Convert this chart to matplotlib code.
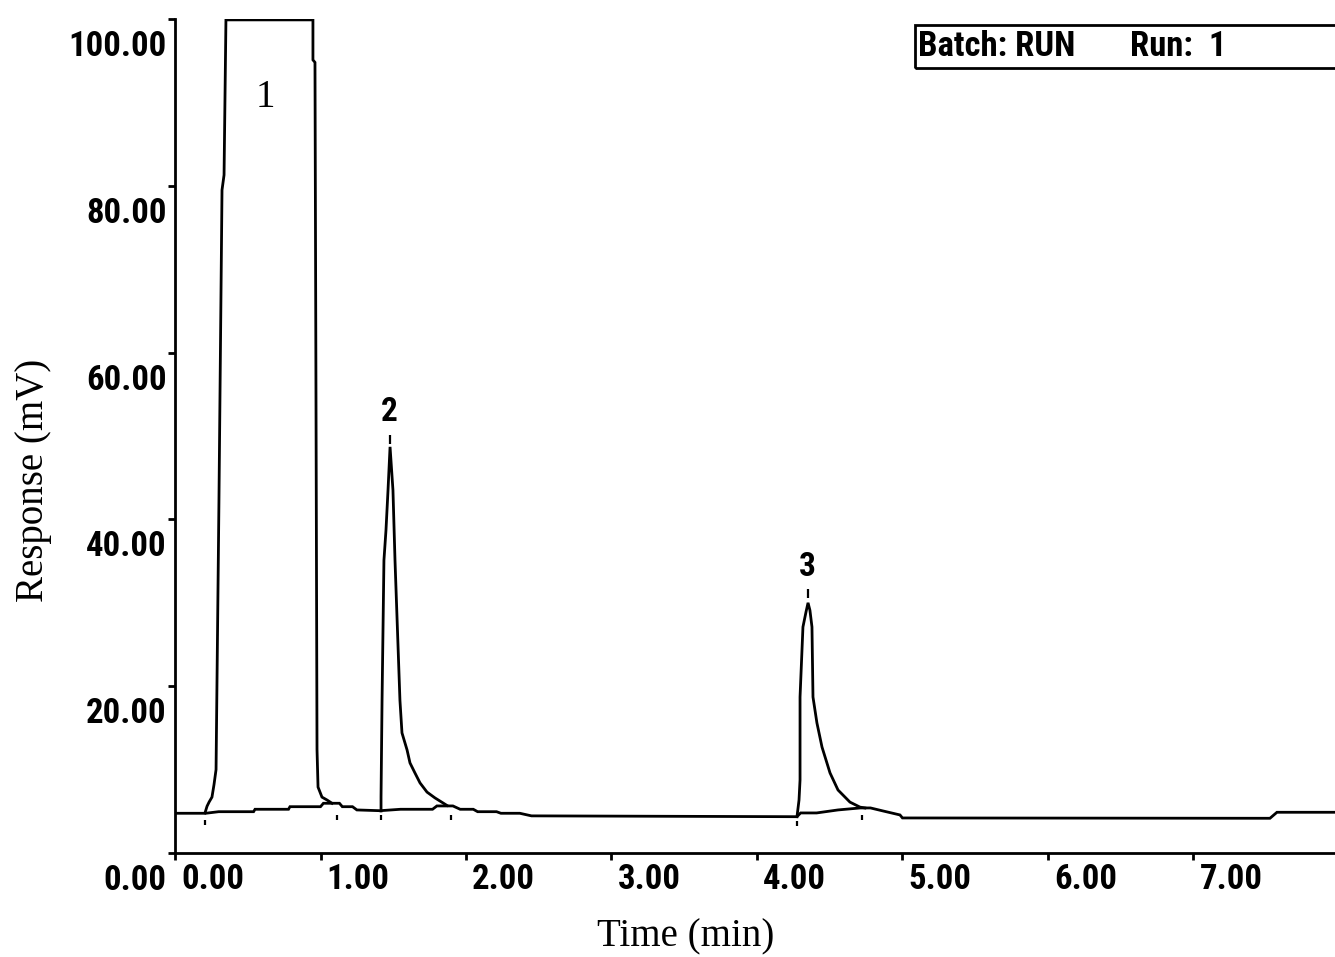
import matplotlib
matplotlib.use("Agg")
import matplotlib.pyplot as plt
from matplotlib import font_manager as fm
from matplotlib.transforms import ScaledTranslation
from matplotlib.patches import Rectangle

# Detector baseline trace (time in min, response in mV)
base_t = [0.0, 0.21, 0.30, 0.54, 0.55, 0.78, 0.79, 1.00, 1.02, 1.13, 1.15, 1.22,
          1.25, 1.41, 1.55, 1.77, 1.80, 1.91, 1.96, 2.05, 2.08, 2.21, 2.24, 2.37,
          2.45, 4.275, 4.30, 4.41, 4.557, 4.71, 4.78, 4.866, 4.983, 5.00, 7.526,
          7.574, 7.973]
base_mv = [4.76, 4.76, 4.95, 4.95, 5.24, 5.24, 5.55, 5.55, 5.96, 5.96, 5.55, 5.55,
           5.16, 5.07, 5.24, 5.24, 5.64, 5.64, 5.24, 5.24, 4.95, 4.95, 4.76, 4.76,
           4.45, 4.35, 4.80, 4.80, 5.16, 5.40, 5.40, 5.04, 4.56, 4.20, 4.16,
           4.88, 4.88]

# Peak 1 (solvent, off scale)
p1_t = [0.206, 0.220, 0.234, 0.254, 0.268, 0.282, 0.302, 0.323, 0.337, 0.350,
        0.948, 0.948, 0.962, 0.969, 0.976, 0.983, 1.010, 1.045, 1.079]
p1_mv = [4.8, 5.6, 6.1, 6.7, 8.2, 10.0, 42.3, 79.5, 81.3, 99.9,
         99.9, 95.1, 94.8, 54.3, 12.4, 7.9, 6.7, 6.35, 5.96]

# Peak 2
p2_t = [1.416, 1.416, 1.423, 1.436, 1.450, 1.464, 1.478, 1.498, 1.512, 1.546,
        1.560, 1.595, 1.615, 1.649, 1.684, 1.732, 1.787, 1.842, 1.869]
p2_mv = [5.04, 6.7, 18.3, 35.1, 38.7, 43.5, 48.7, 43.5, 35.1, 18.3,
         14.4, 12.35, 10.8, 9.6, 8.4, 7.3, 6.6, 6.0, 5.7]

# Peak 3
p3_t = [4.275, 4.289, 4.296, 4.296, 4.316, 4.337, 4.351, 4.364, 4.378, 4.385,
        4.412, 4.447, 4.502, 4.557, 4.639, 4.708, 4.742]
p3_mv = [4.35, 6.35, 8.75, 18.7, 27.1, 28.9, 30.0, 29.1, 27.1, 18.7,
         15.6, 12.7, 9.6, 7.55, 6.1, 5.5, 5.4]

# Integration events (start/end of peaks) and apex markers
event_t = [0.206, 1.11, 1.416, 1.897, 4.275, 4.72]
event_mv = [3.9, 4.6, 4.5, 4.5, 3.8, 4.6]
apex_t = [1.478, 4.351]
apex_mv = [49.6, 31.1]

peak_names = ["1", "2", "3"]
peak_label_t = [0.619, 1.471, 4.344]
peak_label_mv = [90.6, 52.9, 34.3]

x_ticks = [0, 1, 2, 3, 4, 5, 6, 7]
y_ticks = [0, 20, 40, 60, 80, 100]


def narrow_bold_family():
    """Pick an installed bold narrow/condensed sans face, if there is one."""
    narrow_stretches = {"condensed", "semi-condensed", "extra-condensed",
                        "ultra-condensed"}
    names = []
    for f in fm.fontManager.ttflist:
        low = f.name.lower()
        if ("narrow" in low or "condensed" in low or f.stretch in narrow_stretches):
            if isinstance(f.weight, int) and f.weight >= 600 or f.weight == "bold":
                names.append((f.name, f.stretch))
    preferred = ["Liberation Sans Narrow", "Roboto Condensed", "Open Sans Condensed",
                 "Noto Sans", "DejaVu Sans", "Open Sans"]
    for p in preferred:
        for name, stretch in names:
            if name.startswith(p):
                return name, stretch
    if names:
        return names[0]
    return "DejaVu Sans", "normal"


narrow_name, narrow_stretch = narrow_bold_family()
narrow = [narrow_name, "DejaVu Sans"]
serif = ["Liberation Serif", "DejaVu Serif"]

fig = plt.figure(figsize=(13.35, 9.57), dpi=100)
ax = fig.add_axes([0.1311, 0.1087, 0.8689, 0.8714])
lw = 2.0
ax.plot(base_t, base_mv, color="black", lw=lw, solid_joinstyle="miter")
for tt, mv in ((p1_t, p1_mv), (p2_t, p2_mv), (p3_t, p3_mv)):
    ax.plot(tt, mv, color="black", lw=lw, solid_joinstyle="miter")

ax.vlines(event_t, [m - 0.6 for m in event_mv], event_mv, color="black", lw=1.6)
ax.vlines(apex_t, [m - 0.5 for m in apex_mv], [m + 0.5 for m in apex_mv],
          color="black", lw=1.6)

ax.text(peak_label_t[0], peak_label_mv[0], peak_names[0], family=serif,
        fontsize=28, ha="center", va="center")
for name, tt, mv in zip(peak_names[1:], peak_label_t[1:], peak_label_mv[1:]):
    ax.text(tt, mv, name, family=narrow, stretch=narrow_stretch, fontweight="bold",
            fontsize=24, ha="center", va="center")

ax.set_xlim(0, 7.973)
ax.set_ylim(0, 100)
for side in ("top", "right"):
    ax.spines[side].set_visible(False)
for side in ("left", "bottom"):
    ax.spines[side].set_linewidth(2.0)

ax.set_xticks(x_ticks)
ax.set_xticklabels([f"{v:.2f}" for v in x_ticks])
ax.set_yticks(y_ticks)
ax.set_yticklabels([f"{v:.2f}" for v in y_ticks])
ax.tick_params(axis="x", direction="out", length=5, width=2.0, color="black",
               labelsize=25, pad=5)
ax.tick_params(axis="y", direction="out", length=5, width=2.0, color="black",
               labelsize=25, pad=1)
for lab in ax.get_xticklabels():
    lab.set_family(narrow)
    lab.set_stretch(narrow_stretch)
    lab.set_fontweight("bold")
    lab.set_ha("left")
    lab.set_transform(lab.get_transform() + ScaledTranslation(0.06, 0.04, fig.dpi_scale_trans))
for lab in ax.get_yticklabels():
    lab.set_family(narrow)
    lab.set_stretch(narrow_stretch)
    lab.set_fontweight("bold")
    lab.set_transform(lab.get_transform() + ScaledTranslation(0.0, -0.24, fig.dpi_scale_trans))

ax.set_xlabel("Time (min)", family=serif, fontsize=28, va="center")
ax.xaxis.set_label_coords(0.4405, -0.1007)
ax.set_ylabel("Response (mV)", family=serif, fontsize=28, va="center")
ax.yaxis.set_label_coords(-0.1224, 0.447)

# Run information box
fig.patches.append(Rectangle((915 / 1335, 1 - 68 / 957), 0.5, 43 / 957,
                             transform=fig.transFigure, fill=False,
                             edgecolor="black", lw=2.0, clip_on=False))
fig.text(918 / 1335, 1 - 47 / 957, "Batch: RUN", family=narrow, stretch=narrow_stretch,
         fontweight="bold", fontsize=25, ha="left", va="center")
fig.text(1130 / 1335, 1 - 47 / 957, "Run:  1", family=narrow, stretch=narrow_stretch,
         fontweight="bold", fontsize=25, ha="left", va="center")

fig.savefig("out.png", dpi=100)
